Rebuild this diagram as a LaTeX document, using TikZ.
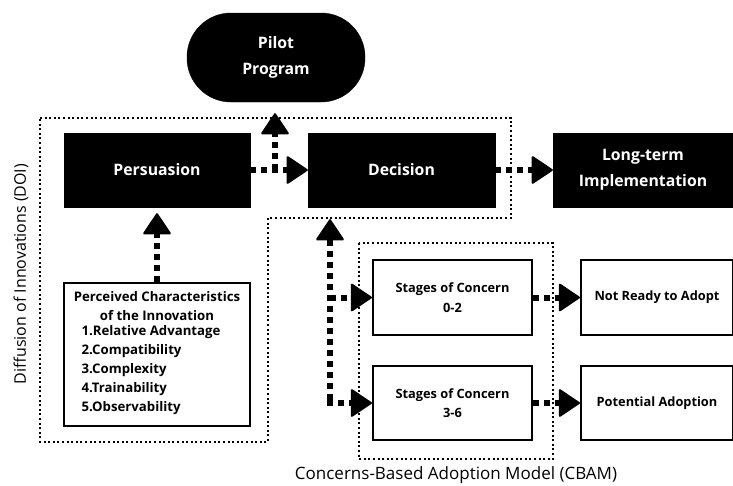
\documentclass[tikz,border=0pt]{standalone}
\usepackage{fontspec}
\setmainfont{Open Sans}
\usetikzlibrary{arrows.meta,calc}
\begin{document}
\begin{tikzpicture}[x=1pt,y=-1pt,
  blackbox/.style={draw=black,fill=black,text=white,font=\bfseries\fontsize{15.8}{25.5}\selectfont,align=center,inner sep=0pt},
  whitebox/.style={draw=black,line width=2pt,fill=white,align=center,inner sep=0pt,font=\bfseries\fontsize{12.8}{19.5}\selectfont},
  flow/.style={line width=6pt,dash pattern=on 6pt off 5pt,-{Triangle[length=22pt,width=29pt,round,line width=2pt]}},
  frame/.style={line width=2pt,dash pattern=on 2pt off 2.6pt},
  lbl/.style={font=\fontsize{16}{18}\selectfont,inner sep=0pt}]
\useasboundingbox (0,0) rectangle (733,485);
% frames
\draw[frame] (40,118) -- (511,118) -- (511,218) -- (268,218) -- (268,442) -- (40,442) -- cycle;
\draw[frame] (359,243) rectangle (553,459);
% nodes
\node[blackbox,rounded corners=44pt,minimum width=178pt,minimum height=89pt] (pilot) at (276,57.5) {Pilot\\Program};
\node[blackbox,minimum width=186pt,minimum height=74pt] (pers) at (157,170) {Persuasion};
\node[blackbox,minimum width=187pt,minimum height=74pt] (dec) at (401.5,170) {Decision};
\node[blackbox,minimum width=180pt,minimum height=74pt] (lti) at (643,170) {Long-term\\Implementation};
\node[whitebox,minimum width=186pt,minimum height=143pt,font=\bfseries\fontsize{13.2}{19}\selectfont] (pc) at (157,354.5) {Perceived Characteristics\\of the Innovation\\
  \hspace*{-12pt}\begin{tabular}{@{}l@{}}1.Relative Advantage\\2.Compatibility\\3.Complexity\\4.Trainability\\5.Observability\end{tabular}};
\node[whitebox,minimum width=159pt,minimum height=75pt] (soc1) at (452.5,297.5) {Stages of Concern\\0-2};
\node[whitebox,minimum width=159pt,minimum height=74pt] (soc2) at (452.5,403) {Stages of Concern\\3-6};
\node[whitebox,minimum width=152pt,minimum height=75pt] (nr) at (657,297.5) {Not Ready to Adopt};
\node[whitebox,minimum width=152pt,minimum height=74pt] (pa) at (657,403) {Potential Adoption};
% labels
\node[lbl,rotate=90] (doi) at (21,274) {Diffusion of Innovations (DOI)};
\node[lbl,font=\fontsize{17}{18}\selectfont] (cbam) at (456,475) {Concerns-Based Adoption Model (CBAM)};
% connectors
\coordinate (j1) at (275,170);
\coordinate (j2) at (330,403);
\coordinate (j3) at (330,297.5);
\draw[flow] (pers.east) -- (dec.west);
\draw[flow,shorten >=11pt] (j1) -- (j1 |- pilot.south);
\draw[flow] (dec.east) -- (lti.west);
\draw[flow,shorten >=6pt] (pc.north) -- (pers.south);
\draw[flow,shorten >=12pt] ($(j2)+(0,-3)$) -- (j2 |- dec.south);
\draw[flow] (j3) -- (soc1.west);
\draw[flow] ($(j2)+(-3,0)$) -- (soc2.west);
\draw[flow] (soc1.east) -- (nr.west);
\draw[flow] (soc2.east) -- (pa.west);
\end{tikzpicture}
\end{document}
